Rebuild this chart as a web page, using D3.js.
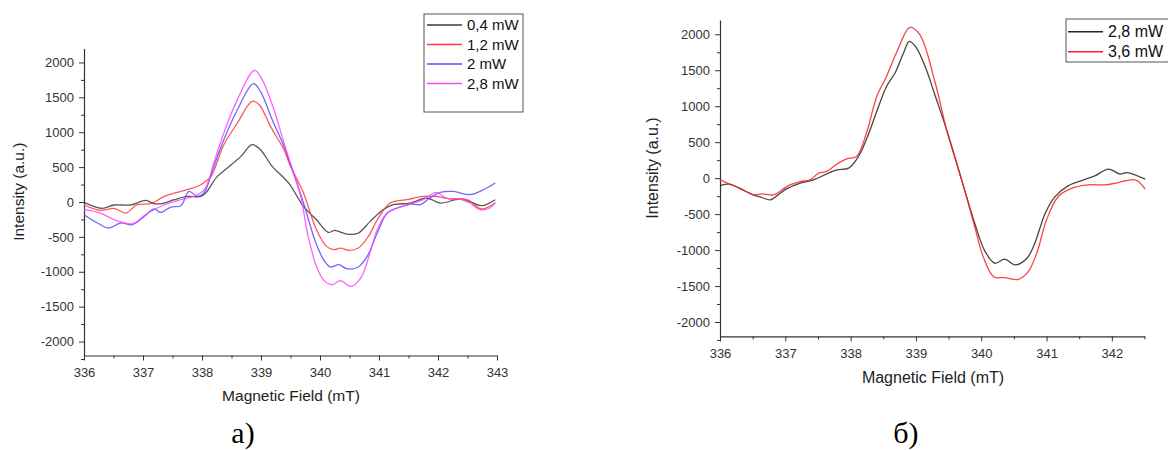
<!DOCTYPE html>
<html>
<head>
<meta charset="utf-8">
<script src="https://cdn.jsdelivr.net/npm/d3@7"></script>
<style>
  html, body { margin: 0; padding: 0; background: #fff; }
  svg { display: block; }
  text { font-family: "Liberation Sans", Arial, sans-serif; }
</style>
</head>
<body>
<svg id="chart" width="1168" height="450"></svg>
<script>
// ---------- Data: panel a) ----------
const fieldA04 = [336, 336.31, 336.51, 336.79, 337.05, 337.19, 337.36, 337.53, 337.75, 337.98, 338.06, 338.26, 338.43, 338.66, 338.85, 338.99, 339.19, 339.39, 339.49, 339.72, 339.94, 340.14, 340.25, 340.45, 340.65, 340.85, 341.07, 341.24, 341.53, 341.81, 342.04, 342.37, 342.57, 342.74, 342.97];
const intA04 = [-5, -91, -43, -43, 23, -25, -15, 33, 80, 80, 128, 367, 487, 654, 821, 750, 510, 344, 250, -63, -254, -435, -407, -459, -445, -278, -110, -39, -15, 57, -15, 43, -5, -53, 33];

const fieldA12 = [336, 336.28, 336.51, 336.71, 336.9, 337.13, 337.36, 337.58, 337.75, 337.98, 338.15, 338.37, 338.6, 338.85, 338.97, 339.16, 339.39, 339.49, 339.72, 339.94, 340.11, 340.23, 340.35, 340.48, 340.65, 340.82, 340.99, 341.19, 341.47, 341.75, 341.97, 342.2, 342.49, 342.74, 342.97];
const intA12 = [-43, -120, -91, -158, -39, -25, 80, 138, 176, 248, 367, 821, 1132, 1443, 1395, 1084, 750, 535, 129, -397, -636, -684, -660, -693, -660, -493, -229, -15, 33, 80, 80, 43, 33, -100, -15];

const fieldA20 = [336, 336.23, 336.42, 336.62, 336.82, 337.02, 337.19, 337.3, 337.47, 337.64, 337.78, 337.92, 338.03, 338.2, 338.37, 338.6, 338.87, 338.99, 339.19, 339.39, 339.49, 339.72, 339.92, 340.06, 340.18, 340.32, 340.45, 340.65, 340.8, 340.97, 341.14, 341.31, 341.53, 341.7, 341.86, 342.04, 342.26, 342.54, 342.77, 342.97];
const intA20 = [-182, -301, -373, -301, -325, -206, -100, -149, -72, -53, 152, 80, 128, 510, 893, 1323, 1696, 1586, 1180, 797, 559, -15, -564, -827, -932, -899, -956, -932, -779, -444, -158, -86, -29, -39, 57, 138, 152, 105, 176, 272];

const fieldA28 = [336, 336.28, 336.51, 336.82, 337.02, 337.21, 337.41, 337.64, 337.92, 338.06, 338.2, 338.37, 338.6, 338.89, 339.02, 339.22, 339.39, 339.49, 339.66, 339.8, 339.94, 340.08, 340.2, 340.35, 340.52, 340.69, 340.83, 340.97, 341.14, 341.31, 341.53, 341.75, 341.97, 342.14, 342.37, 342.54, 342.71, 342.88, 342.97];
const intA28 = [-110, -158, -254, -311, -196, -100, -25, 33, 100, 200, 559, 989, 1467, 1887, 1753, 1323, 845, 582, 129, -493, -923, -1138, -1186, -1128, -1210, -1090, -779, -397, -158, -86, -29, 33, 138, 57, 43, -15, -110, -86, -5];

const labelsA = ["0,4 mW", "1,2 mW", "2 mW", "2,8 mW"];
const colorsA = ["#3a3a3a", "#ff3b3b", "#5050ff", "#ff45ff"];

// ---------- Data: panel б) ----------
const fieldB28 = [336, 336.15, 336.31, 336.51, 336.64, 336.77, 336.89, 337.02, 337.23, 337.43, 337.63, 337.79, 337.97, 338.12, 338.25, 338.4, 338.55, 338.68, 338.81, 338.9, 339.01, 339.16, 339.29, 339.47, 339.7, 339.9, 340.06, 340.21, 340.36, 340.52, 340.7, 340.82, 340.98, 341.13, 341.33, 341.54, 341.74, 341.95, 342.13, 342.23, 342.51];
const intB28 = [-103, -84, -149, -232, -269, -302, -232, -149, -70, -24, 56, 116, 139, 301, 557, 927, 1275, 1461, 1740, 1901, 1809, 1507, 1159, 672, -24, -626, -1021, -1183, -1127, -1207, -1114, -905, -487, -256, -107, -33, 32, 125, 56, 78, -14];

const fieldB36 = [336, 336.15, 336.31, 336.51, 336.64, 336.82, 336.97, 337.07, 337.23, 337.38, 337.51, 337.63, 337.81, 337.94, 338.09, 338.25, 338.4, 338.55, 338.71, 338.91, 339.06, 339.29, 339.47, 339.7, 339.9, 340.03, 340.19, 340.36, 340.57, 340.72, 340.85, 341.0, 341.18, 341.39, 341.64, 341.9, 342.1, 342.36, 342.51];
const intB36 = [-24, -84, -140, -232, -218, -232, -149, -93, -47, -24, 70, 93, 209, 269, 301, 649, 1136, 1414, 1762, 2096, 1994, 1344, 672, -24, -673, -1091, -1370, -1383, -1406, -1300, -1044, -580, -256, -139, -93, -93, -61, -24, -153];

const labelsB = ["2,8 mW", "3,6 mW"];
const colorsB = ["#262626", "#ff2020"];

// ---------- Tick values ----------
const yTicksMajor = [-2000, -1500, -1000, -500, 0, 500, 1000, 1500, 2000];
const yTicksMinor = [-2250, -1750, -1250, -750, -250, 250, 750, 1250, 1750];
const xTicksA = [336, 337, 338, 339, 340, 341, 342, 343];
const xTicksB = [336, 337, 338, 339, 340, 341, 342];

const xTitle = "Magnetic Field (mT)";
const yTitle = "Intensity (a.u.)";

// ---------- Drawing ----------
const svg = d3.select("#chart");
const fmt = v => String(v); // plain hyphen-minus, as in the original

function zip(xs, ys) { return xs.map((x, i) => [x, ys[i]]); }

function panel(cfg) {
  const x = d3.scaleLinear().domain(cfg.xDomain).range(cfg.xRange);
  const y = d3.scaleLinear().domain([-2200, 2200]).range(cfg.yRange);
  const g = svg.append("g");

  const xMinor = d3.range(cfg.xDomain[0] + 0.5, cfg.xDomain[1] + 0.001, 1);
  // minor ticks
  g.append("g").attr("transform", `translate(0,${cfg.yRange[0]})`)
    .call(d3.axisBottom(x).tickValues(xMinor).tickSize(3).tickFormat("").tickSizeOuter(0))
    .call(s => s.select(".domain").remove())
    .call(s => s.selectAll("line").attr("stroke", "#333"));
  g.append("g").attr("transform", `translate(${cfg.xRange[0]},0)`)
    .call(d3.axisLeft(y).tickValues(yTicksMinor).tickSize(3).tickFormat("").tickSizeOuter(0))
    .call(s => s.select(".domain").remove())
    .call(s => s.selectAll("line").attr("stroke", "#333"));

  // major axes
  const xa = g.append("g").attr("transform", `translate(0,${cfg.yRange[0]})`)
    .call(d3.axisBottom(x).tickValues(cfg.xTicks).tickSize(5).tickPadding(7.5).tickSizeOuter(0).tickFormat(fmt));
  const ya = g.append("g").attr("transform", `translate(${cfg.xRange[0]},0)`)
    .call(d3.axisLeft(y).tickValues(yTicksMajor).tickSize(5).tickPadding(5).tickSizeOuter(0).tickFormat(fmt));
  [xa, ya].forEach(a => {
    a.select(".domain").attr("stroke", "#333").attr("stroke-width", 1.2);
    a.selectAll("line").attr("stroke", "#333");
    a.selectAll("text").attr("fill", "#333").style("font-size", "13px")
      .style("font-family", '"Liberation Sans", Arial, sans-serif');
  });

  // series
  const line = d3.line().x(d => x(d[0])).y(d => y(d[1])).curve(d3.curveCatmullRom.alpha(0.5));
  cfg.series.forEach((s, i) => {
    g.append("path").datum(zip(s.f, s.v))
      .attr("fill", "none").attr("stroke", cfg.colors[i])
      .attr("stroke-width", 1.3).attr("stroke-opacity", 0.85)
      .attr("d", line);
  });

  // titles
  g.append("text").attr("x", cfg.xTitlePos[0]).attr("y", cfg.xTitlePos[1])
    .attr("text-anchor", "middle").style("font-size", cfg.titleSize + "px").attr("fill", "#222").text(xTitle);
  g.append("text").attr("transform", `translate(${cfg.yTitlePos[0]},${cfg.yTitlePos[1]}) rotate(-90)`)
    .attr("text-anchor", "middle").style("font-size", cfg.titleSize + "px").attr("fill", "#222").text(yTitle);

  // legend
  const L = cfg.legend;
  g.append("rect").attr("x", L.x).attr("y", L.y).attr("width", L.w).attr("height", L.h)
    .attr("fill", "#fff").attr("stroke", "#555").attr("stroke-width", 1);
  cfg.labels.forEach((lab, i) => {
    const cy = L.rowY + i * L.rowH;
    g.append("line").attr("x1", L.lx1).attr("x2", L.lx2).attr("y1", cy).attr("y2", cy)
      .attr("stroke", cfg.colors[i]).attr("stroke-width", 1.4);
    g.append("text").attr("x", L.tx).attr("y", cy).attr("dy", "0.35em")
      .style("font-size", L.fs + "px").attr("fill", "#111").text(lab);
  });

  // caption
  svg.append("text").attr("x", cfg.caption[0]).attr("y", cfg.caption[1]).attr("text-anchor", "middle")
    .style("font-family", '"Liberation Serif", "Times New Roman", serif').style("font-size", "30px")
    .attr("fill", "#000").text(cfg.captionText);
}

panel({
  xDomain: [336, 343], xRange: [84, 497], yRange: [355.5, 48.5],
  xTicks: xTicksA,
  series: [{f: fieldA04, v: intA04}, {f: fieldA12, v: intA12}, {f: fieldA20, v: intA20}, {f: fieldA28, v: intA28}],
  colors: colorsA, labels: labelsA,
  titleSize: 15.5, xTitlePos: [291, 401], yTitlePos: [23.5, 191.7],
  legend: {x: 424, y: 14, w: 99, h: 98, rowY: 25, rowH: 19.5, lx1: 427, lx2: 462, tx: 467, fs: 15},
  caption: [243, 443], captionText: "а)"
});

panel({
  xDomain: [336, 342.5], xRange: [720, 1144.5], yRange: [336.4, 19.9],
  xTicks: xTicksB,
  series: [{f: fieldB28, v: intB28}, {f: fieldB36, v: intB36}],
  colors: colorsB, labels: labelsB,
  titleSize: 16, xTitlePos: [933, 383], yTitlePos: [657.5, 168],
  legend: {x: 1066, y: 19, w: 110, h: 43, rowY: 31.7, rowH: 20, lx1: 1068, lx2: 1103, tx: 1108, fs: 16},
  caption: [906, 443], captionText: "б)"
});
</script>
</body>
</html>
